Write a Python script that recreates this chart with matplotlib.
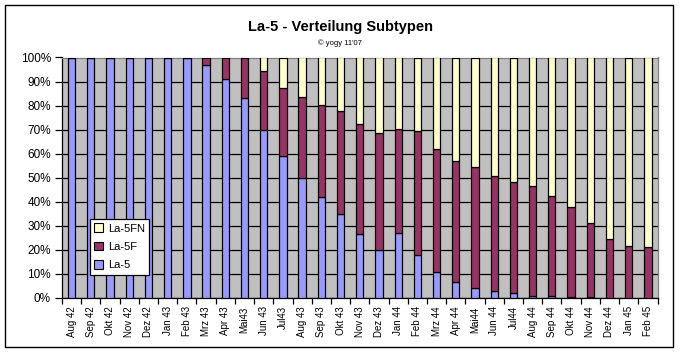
import matplotlib
matplotlib.use("Agg")
import matplotlib.pyplot as plt
from matplotlib.patches import Rectangle, Patch
import numpy as np

plt.rcParams['font.family'] = ['Liberation Sans', 'DejaVu Sans']

categories = ["Aug 42", "Sep 42", "Okt 42", "Nov 42", "Dez 42", "Jan 43", "Feb 43",
              "Mrz 43", "Apr 43", "Mai43", "Jun 43", "Jul43", "Aug 43", "Sep 43",
              "Okt 43", "Nov 43", "Dez 43", "Jan 44", "Feb 44", "Mrz 44", "Apr 44",
              "Mai44", "Jun 44", "Jul44", "Aug 44", "Sep 44", "Okt 44", "Nov 44",
              "Dez 44", "Jan 45", "Feb 45"]
la5 = [100, 100, 100, 100, 100, 100, 100, 97, 91, 83, 70, 59, 50, 42, 35, 26.5,
       20, 27, 18, 11, 6.5, 4, 3, 2, 1, 0.7, 0.3, 0.3, 0.1, 0, 0]
la5f = [0, 0, 0, 0, 0, 0, 0, 3, 9, 17, 24.4, 28.2, 33.4, 38.1, 42.6, 45.7,
        48.5, 43.4, 51.3, 51.1, 50.3, 50.3, 47.6, 46.1, 45.4, 41.6, 37.4, 30.8,
        24.3, 21.5, 21.1]
la5fn = [0, 0, 0, 0, 0, 0, 0, 0, 0, 0, 5.6, 12.8, 16.6, 19.9, 22.4, 27.8,
         31.5, 29.6, 30.7, 37.9, 43.2, 45.7, 49.4, 51.9, 53.6, 57.7, 62.3, 68.9,
         75.6, 78.5, 78.9]
series_names = ["La-5", "La-5F", "La-5FN"]
colors = ["#9999FF", "#993366", "#FFFFCC"]
yticks = [0, 10, 20, 30, 40, 50, 60, 70, 80, 90, 100]

fig = plt.figure(figsize=(6.8, 3.53), dpi=100)
ax = fig.add_axes([62/680, 1-298/353, (657.5-62)/680, (298-57.5)/353])
ax.set_facecolor("#C0C0C0")

x = np.arange(len(categories))
w = 0.38
b1 = np.array(la5, dtype=float)
b2 = b1 + np.array(la5f, dtype=float)
ax.bar(x, la5, w, color=colors[0], edgecolor="black", linewidth=0.9, zorder=3)
ax.bar(x, la5f, w, bottom=b1, color=colors[1], edgecolor="black", linewidth=0.9, zorder=3)
ax.bar(x, la5fn, w, bottom=b2, color=colors[2], edgecolor="black", linewidth=0.9, zorder=3)

ax.set_xlim(-0.5, len(categories) - 0.5)
ax.set_ylim(0, 100)
ax.set_yticks(yticks)
ax.set_yticklabels([f"{v}%" for v in yticks], fontsize=8.5)
ax.yaxis.grid(True, color="black", linewidth=0.9, zorder=0)
ax.set_axisbelow(True)

ax.set_xticks(x)
ax.set_xticklabels(categories, rotation=90, fontsize=7)
ax.set_xticks(np.arange(len(categories) + 1) - 0.5, minor=True)
ax.tick_params(axis='x', which='major', length=0, pad=6)
ax.tick_params(axis='x', which='minor', length=4, width=0.9, direction='out')
ax.tick_params(axis='y', length=5, width=0.9, direction='out', pad=3)

for s in ["left", "bottom"]:
    ax.spines[s].set_color("black")
    ax.spines[s].set_linewidth(0.9)
for s in ["top", "right"]:
    ax.spines[s].set_color("#808080")
    ax.spines[s].set_linewidth(0.9)

handles = [Patch(facecolor=colors[i], edgecolor="black", linewidth=0.8) for i in [2, 1, 0]]
labels = [series_names[i] for i in [2, 1, 0]]
leg = ax.legend(handles, labels, loc="lower left",
                bbox_to_anchor=(0.047, 0.096), borderaxespad=0,
                fontsize=8, frameon=True, fancybox=False, shadow=False,
                handlelength=0.8, handleheight=0.8, handletextpad=0.4,
                labelspacing=0.75, borderpad=0.4)
leg.get_frame().set_edgecolor("black")
leg.get_frame().set_linewidth(0.9)
leg.get_frame().set_facecolor("white")
leg.get_frame().set_alpha(1)
leg.set_zorder(5)

fig.text(340/680, 1-27/353, "La-5 - Verteilung Subtypen", ha="center", va="center",
         fontsize=10.5, fontweight="bold")
fig.text(340/680, 1-43/353, "© yogy 11'07", ha="center", va="center", fontsize=5.5)

fig.patches.append(Rectangle((5/680, 1-347/353), 668/680, 342/353,
                             transform=fig.transFigure, fill=False,
                             edgecolor="black", linewidth=1))

fig.savefig("out.png", dpi=100)
